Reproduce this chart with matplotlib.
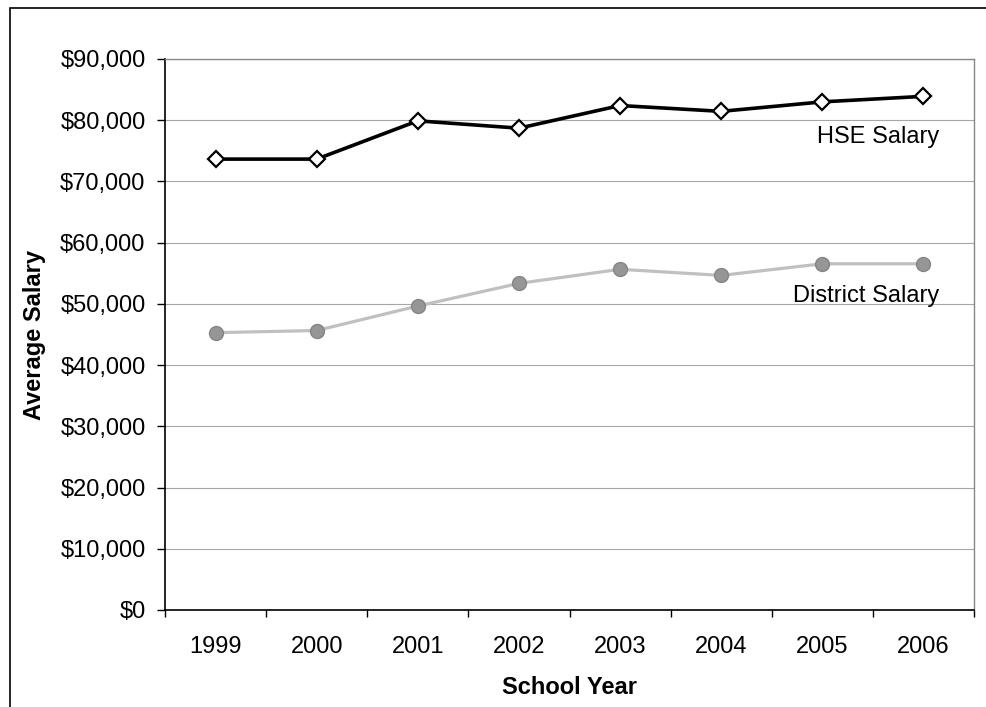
import numpy as np
import matplotlib
matplotlib.use("Agg")
import matplotlib.pyplot as plt
from matplotlib.patches import Rectangle
from matplotlib.ticker import FuncFormatter, FixedLocator

plt.rcParams['font.family'] = ['Liberation Sans', 'DejaVu Sans']

# chart data
years = ['1999', '2000', '2001', '2002', '2003', '2004', '2005', '2006']
hse_salary = [73650, 73650, 79900, 78700, 82400, 81450, 83000, 83900]
district_salary = [45300, 45650, 49650, 53350, 55650, 54650, 56550, 56550]

fig = plt.figure(figsize=(9.86, 7.07), dpi=100)
ax = fig.add_axes([165 / 986, 1 - 610 / 707, 809 / 986, 551 / 707])

x = np.arange(len(years))

# gridlines
ax.set_axisbelow(True)
ax.yaxis.grid(True, color='#a6a6a6', linewidth=0.8)

ax.plot(x, district_salary, color='#c0c0c0', linewidth=2.3,
        marker='o', markersize=10, markerfacecolor='#969696',
        markeredgecolor='#858585', markeredgewidth=1, zorder=3)
ax.plot(x, hse_salary, color='black', linewidth=2.6,
        marker='D', markersize=7.8, markerfacecolor='white',
        markeredgecolor='black', markeredgewidth=1.6, zorder=4)

ax.text(7.16, 77300, 'HSE Salary', ha='right', va='center', fontsize=17)
ax.text(7.16, 51250, 'District Salary', ha='right', va='center', fontsize=17)

ax.set_xlim(-0.5, len(years) - 0.5)
ax.set_ylim(0, 90000)
ax.set_yticks(np.arange(0, 90001, 10000))
ax.yaxis.set_major_formatter(FuncFormatter(lambda v, p: '${:,.0f}'.format(v)))

# category ticks between years, labels at centres
ax.xaxis.set_major_locator(FixedLocator(np.arange(-0.5, len(years), 1.0)))
ax.xaxis.set_major_formatter(FuncFormatter(lambda v, p: ''))
ax.xaxis.set_minor_locator(FixedLocator(x))
ax.set_xticklabels(years, minor=True)

ax.tick_params(axis='x', which='major', direction='out', length=5, width=1, color='black')
ax.tick_params(axis='x', which='minor', length=0, pad=19, labelsize=17)
ax.tick_params(axis='y', direction='out', length=6, width=1, pad=8, labelsize=17)

for side in ['top', 'right']:
    ax.spines[side].set_color('#888888')
    ax.spines[side].set_linewidth(1)
for side in ['left', 'bottom']:
    ax.spines[side].set_color('black')
    ax.spines[side].set_linewidth(1.2)

fig.text(35 / 986, 1 - 335 / 707, 'Average Salary', rotation=90, ha='center', va='center',
         fontsize=17, fontweight='bold')
fig.text(569 / 986, 1 - 688 / 707, 'School Year', ha='center', va='center',
         fontsize=17, fontweight='bold')

# outer chart border (runs off the right and bottom of the image)
fig.patches.append(Rectangle((9.5 / 986, -0.1), 1.2, 1 - 8 / 707 + 0.1,
                             transform=fig.transFigure, fill=False,
                             edgecolor='black', linewidth=1.2))

fig.savefig('out.png', dpi=100)
